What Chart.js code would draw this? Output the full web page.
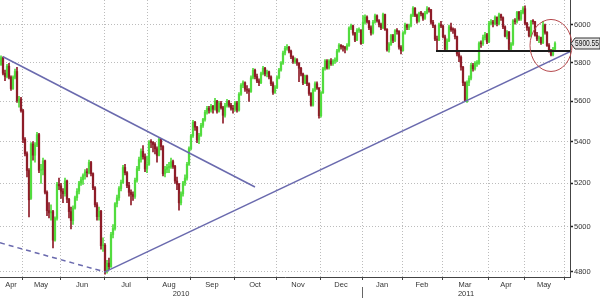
<!DOCTYPE html>
<html>
<head>
<meta charset="utf-8">
<title>FTSE 100 daily, Apr 2010 - May 2011</title>
<script src="https://cdn.jsdelivr.net/npm/chart.js@4.4.1/dist/chart.umd.min.js"></script>
<style>
  html, body { margin: 0; padding: 0; background: #fff; }
  #wrap { width: 600px; height: 300px; }
</style>
</head>
<body>
<div id="wrap"><canvas id="chart" width="600" height="300"></canvas></div>
<script>
// Daily sessions, index 0 = mid April 2010, last = late May 2011
const opens = [
  5790,5825,5744,5727,5781,5723,5665,5723,5753,5595, 5612,5553,5411,5341,5261,5130,5388,5334,5383,5434,
  5262,5264,5307,5158,5073,5063,5069,4940,5038,5195, 5188,5163,5152,5211,5126,5069,5028,5085,5133,5163,
  5202,5217,5237,5254,5250,5299,5246,5179,5100,5046, 5071,4915,4917,4805,4838,4823,4965,4992,5105,5132,
  5176,5204,5275,5250,5190,5158,5148,5139,5214,5269, 5313,5352,5326,5268,5290,5397,5396,5386,5365,5333,
  5411,5376,5245,5266,5275,5277,5303,5280,5211,5195, 5109,5151,5202,5225,5290,5366,5428,5495,5471,5408,
  5431,5480,5509,5545,5565,5555,5575,5560,5602,5550, 5590,5568,5530,5578,5600,5580,5565,5560,5592,5556,
  5636,5682,5695,5662,5657,5650,5720,5760,5727,5704, 5695,5742,5770,5741,5751,5725,5690,5646,5670,5720,
  5761,5797,5850,5875,5880,5860,5830,5805,5815,5797, 5770,5740,5694,5730,5690,5640,5581,5657,5690,5668,
  5528,5643,5767,5808,5772,5808,5794,5808,5812,5861, 5892,5882,5881,5871,5890,5983,5996,5956,5919,5971,
  5972,5905,6014,6043,6019,5985,5957,6015,6050,6023, 6002,5985,6057,5976,5867,5896,5943,5917,5969,5965,
  5881,5863,5957,6000,5987,5997,6052,6092,6053,6021, 6063,6061,6037,6065,6087,6083,6015,5996,5924,5919,
  6002,5994,5936,5870,5914,5990,5974,5973,5937,5845, 5828,5776,5695,5599,5697,5718,5786,5767,5795,5796,
  5900,5899,5932,5948,5909,6009,6017,6008,6042,6007, 6056,6040,5990,5940,5963,5870,5897,6023,6018,6069,
  6033,6068,6089,6009,5985,5942,6019,6018,5945,5925, 5932,5905,6000,5960,5890,5861,5840,5870
];
const highs = [
  5835,5830,5760,5790,5795,5730,5730,5765,5775,5625, 5620,5560,5420,5350,5270,5395,5400,5395,5445,5440,
  5290,5320,5310,5165,5110,5100,5075,5045,5205,5225, 5200,5175,5225,5215,5130,5090,5095,5140,5175,5210,
  5230,5245,5265,5270,5310,5305,5250,5185,5110,5090, 5075,4950,4925,4850,4860,4975,5010,5110,5145,5185,
  5215,5285,5290,5255,5205,5170,5160,5225,5280,5325, 5365,5380,5340,5330,5405,5410,5400,5395,5375,5420,
  5415,5380,5280,5290,5300,5320,5310,5285,5230,5200, 5160,5210,5240,5300,5375,5435,5505,5500,5475,5440,
  5490,5515,5555,5575,5575,5585,5580,5615,5605,5600, 5600,5575,5590,5610,5605,5590,5580,5600,5600,5645,
  5690,5705,5700,5680,5665,5730,5770,5765,5740,5715, 5750,5780,5775,5760,5755,5730,5700,5680,5730,5770,
  5805,5860,5885,5895,5885,5865,5835,5825,5820,5800, 5775,5745,5735,5735,5695,5645,5665,5700,5700,5670,
  5650,5775,5815,5815,5815,5820,5815,5825,5870,5900, 5895,5890,5885,5900,5990,6005,6000,5960,5980,5985,
  5975,6051,6055,6050,6025,5995,6025,6060,6055,6030, 6010,6065,6060,5980,5905,5950,5950,5975,5980,5970,
  5890,5965,6010,6005,6005,6060,6100,6095,6060,6070, 6075,6065,6075,6100,6095,6085,6025,6000,5940,6010,
  6020,6000,5945,5925,6000,6010,5985,5980,5940,5855, 5835,5780,5700,5705,5730,5795,5795,5805,5810,5910,
  5915,5945,5960,5955,6020,6030,6025,6050,6045,6065, 6060,6045,5995,5970,5965,5905,6030,6035,6075,6075,
  6080,6100,6105,6015,5990,6025,6030,6020,5960,5940, 5935,6020,6005,5965,5900,5870,5880,5910
];
const lows = [
  5785,5735,5705,5720,5715,5655,5660,5715,5595,5570, 5545,5395,5330,5230,5045,5125,5310,5300,5375,5250,
  5200,5240,5150,5050,5040,5030,4905,4935,5030,5170, 5130,5110,5140,5110,5040,4990,5010,5080,5120,5150,
  5190,5195,5220,5230,5245,5235,5170,5090,5030,5030, 4900,4890,4790,4795,4810,4820,4950,4985,5090,5120,
  5165,5200,5240,5180,5140,5100,5120,5130,5205,5260, 5300,5315,5255,5250,5285,5370,5350,5340,5300,5330,
  5360,5235,5230,5250,5250,5270,5270,5200,5170,5075, 5100,5140,5190,5215,5285,5360,5420,5455,5395,5390,
  5425,5470,5500,5535,5540,5545,5540,5555,5540,5545, 5560,5490,5520,5570,5570,5555,5540,5550,5545,5550,
  5630,5670,5650,5640,5600,5645,5715,5715,5695,5680, 5690,5735,5730,5725,5715,5680,5635,5640,5665,5715,
  5755,5790,5840,5865,5850,5820,5795,5795,5785,5700, 5730,5685,5690,5680,5630,5575,5575,5650,5660,5515,
  5520,5640,5760,5765,5765,5785,5785,5795,5805,5855, 5870,5860,5850,5865,5885,5975,5945,5910,5915,5960,
  5895,5900,6005,6010,5975,5945,5950,6010,6015,5990, 5975,5980,5970,5860,5855,5890,5905,5910,5950,5870,
  5845,5860,5950,5975,5975,5990,6045,6045,6010,6015, 6050,6025,6030,6060,6070,6005,5985,5915,5862,5915,
  5985,5930,5862,5865,5910,5965,5955,5925,5835,5805, 5760,5680,5598,5595,5680,5710,5755,5760,5780,5790,
  5880,5890,5920,5900,5905,6000,5990,6000,5995,6000, 6025,5980,5935,5925,5862,5860,5890,6005,6010,6025,
  6025,6060,6000,5970,5935,5935,6005,5940,5915,5905, 5895,5900,5950,5885,5855,5835,5835,5865
];
const closes = [
  5825,5744,5727,5781,5723,5665,5723,5753,5603,5612, 5553,5411,5341,5261,5123,5388,5334,5383,5434,5262,
  5264,5307,5158,5073,5063,5069,4940,5038,5195,5188, 5163,5152,5211,5126,5069,5028,5085,5133,5163,5202,
  5217,5237,5254,5250,5299,5246,5179,5100,5046,5071, 4915,4917,4805,4838,4823,4965,4992,5105,5132,5176,
  5204,5275,5250,5190,5158,5148,5139,5214,5269,5313, 5352,5326,5268,5290,5397,5396,5386,5365,5333,5411,
  5376,5245,5266,5275,5277,5303,5280,5211,5195,5109, 5151,5202,5225,5290,5366,5428,5495,5471,5408,5431,
  5480,5509,5545,5565,5555,5575,5560,5602,5550,5590, 5568,5530,5578,5600,5580,5565,5560,5592,5556,5636,
  5682,5695,5662,5657,5650,5720,5760,5727,5704,5695, 5742,5770,5741,5751,5725,5690,5646,5670,5720,5761,
  5797,5850,5875,5880,5860,5830,5805,5815,5797,5770, 5740,5694,5730,5690,5640,5581,5657,5690,5668,5528,
  5643,5767,5808,5772,5808,5794,5808,5812,5861,5892, 5882,5881,5871,5890,5983,5996,5956,5919,5971,5972,
  5900,6014,6043,6019,5985,5957,6015,6050,6023,6002, 5985,6057,5976,5867,5896,5943,5917,5969,5965,5881,
  5863,5957,6000,5987,5997,6052,6092,6053,6021,6063, 6061,6037,6065,6087,6083,6015,5996,5924,5919,6002,
  5994,5936,5870,5914,5990,5974,5973,5937,5845,5828, 5776,5695,5599,5697,5718,5786,5767,5795,5796,5900,
  5899,5932,5948,5909,6009,6017,6008,6042,6007,6056, 6040,5990,5940,5963,5870,5897,6023,6018,6069,6033,
  6068,6089,6009,5985,5942,6019,6018,5945,5925,5932, 5905,6000,5960,5890,5861,5840,5870,5900.55
];

// month axis: label per month, first session index of the following month
const monthNames = ["Apr","May","Jun","Jul","Aug","Sep","Oct","Nov","Dec","Jan","Feb","Mar","Apr","May"];
const monthEnds = [11, 30, 52, 74, 95, 117, 138, 160, 181, 201, 221, 244, 262, 282];
const yearNames = ["2010", "2011"];
const yearBreak = 181;   // first session of 2011
const priceTicks = [4800, 5000, 5200, 5400, 5600, 5800, 6000];

// hand drawn lines, [session index, price]
const downTrend = [[1, 5830], [127, 5183]];
const oldTrend = [[-0.5, 4928], [52, 4800]];
const upTrend = [[52, 4800], [284.5, 5857]];
const support = [[217.5, 5861], [284.5, 5861]];
const circled = { index: 275, price: 5890 };

const X_MIN = -0.5, X_MAX = 284.5;
const FONT = "'Liberation Sans', Arial, sans-serif";
const UP = '#52dc3e', DOWN = '#8e1c28', TREND = '#6a6aae';

const colors = closes.map((c, i) => c >= opens[i] ? UP : DOWN);
const pts = arr => arr.map(([x, y]) => ({ x, y }));

const monthMids = monthNames.map((_, k) => {
  const a = k === 0 ? X_MIN : monthEnds[k - 1] - 0.5;
  const b = Math.min(monthEnds[k] - 0.5, X_MAX);
  return (a + b) / 2;
});
const yearMids = [(X_MIN + yearBreak - 0.5) / 2, (yearBreak - 0.5 + X_MAX) / 2];

const noPad = s => { s.paddingLeft = 0; s.paddingRight = 0; s.paddingTop = 0; s.paddingBottom = 0; };

const overlay = {
  id: 'overlay',
  afterDatasetsDraw(chart) {
    const { ctx, scales: { x, y } } = chart;
    ctx.save();
    ctx.strokeStyle = '#b5484c';
    ctx.lineWidth = 1;
    ctx.beginPath();
    ctx.ellipse(x.getPixelForValue(circled.index), y.getPixelForValue(circled.price), 21, 26, 0, 0, Math.PI * 2);
    ctx.stroke();
    ctx.restore();
  },
  afterDraw(chart) {
    const { ctx, chartArea, scales: { x, y } } = chart;
    const last = closes[closes.length - 1];
    const py = Math.round(y.getPixelForValue(last)) + 0.5;
    const r = chartArea.right;
    ctx.save();
    // last price tag
    ctx.beginPath();
    ctx.moveTo(r + 1, py);
    ctx.lineTo(r + 5, py - 5.5);
    ctx.lineTo(600, py - 5.5);
    ctx.lineTo(600, py + 5.5);
    ctx.lineTo(r + 5, py + 5.5);
    ctx.closePath();
    ctx.fillStyle = '#e4e4e4';
    ctx.fill();
    ctx.strokeStyle = '#333';
    ctx.lineWidth = 1;
    ctx.stroke();
    ctx.fillStyle = '#111';
    ctx.font = '9px ' + FONT;
    ctx.textBaseline = 'middle';
    ctx.textAlign = 'left';
    ctx.fillText(last.toFixed(2), r + 5, py + 0.5, 600 - r - 6);
    // year separator under the month labels
    const sx = Math.round(x.getPixelForValue(yearBreak - 0.5)) + 0.5;
    ctx.strokeStyle = '#666';
    ctx.beginPath();
    ctx.moveTo(sx, chartArea.bottom + 10);
    ctx.lineTo(sx, chartArea.bottom + 21);
    ctx.stroke();
    ctx.restore();
  }
};

const lineSet = (data, color, width, dash) => ({
  type: 'line', data: pts(data), borderColor: color, borderWidth: width,
  borderDash: dash || [], pointRadius: 0, tension: 0, order: 0
});

const labelFont = { family: FONT, size: 7.5 };

new Chart(document.getElementById('chart'), {
  type: 'bar',
  data: {
    datasets: [
      lineSet(support, '#1c1c1c', 2),
      lineSet(downTrend, TREND, 1.5),
      lineSet(oldTrend, TREND, 1.5, [5, 4]),
      lineSet(upTrend, TREND, 1.5),
      {
        label: 'body',
        data: closes.map((c, i) => ({ x: i, y: [opens[i], c] })),
        backgroundColor: colors,
        barThickness: 1.6,
        minBarLength: 1,
        grouped: false,
        order: 1
      },
      {
        label: 'wick',
        data: closes.map((c, i) => ({ x: i, y: [lows[i], highs[i]] })),
        backgroundColor: colors,
        barThickness: 1,
        grouped: false,
        order: 2
      }
    ]
  },
  options: {
    responsive: false,
    devicePixelRatio: 1,
    animation: false,
    events: [],
    layout: { padding: 0 },
    plugins: { legend: { display: false }, tooltip: { enabled: false } },
    scales: {
      x: {
        type: 'linear', position: 'bottom', min: X_MIN, max: X_MAX, bounds: 'data', offset: false,
        afterBuildTicks: s => { s.ticks = monthEnds.map(v => ({ value: v - 0.5 })); },
        ticks: { display: false },
        grid: { offset: false, color: '#bcbcbc', tickColor: '#444', tickLength: 3 },
        border: { color: '#444', dash: [1, 2] },
        afterFit: s => { s.height = 3; noPad(s); }
      },
      months: {
        type: 'linear', position: 'bottom', min: X_MIN, max: X_MAX, bounds: 'data', offset: false,
        afterBuildTicks: s => { s.ticks = monthMids.map(v => ({ value: v })); },
        ticks: {
          callback: (v, i) => monthNames[i], autoSkip: false, maxRotation: 0,
          padding: 0, color: '#333', font: labelFont
        },
        grid: { display: false, drawTicks: false, offset: false },
        border: { display: false },
        afterFit: s => { s.height = 9; noPad(s); }
      },
      years: {
        type: 'linear', position: 'bottom', min: X_MIN, max: X_MAX, bounds: 'data', offset: false,
        afterBuildTicks: s => { s.ticks = yearMids.map(v => ({ value: v })); },
        ticks: {
          callback: (v, i) => yearNames[i], autoSkip: false, maxRotation: 0,
          padding: 0, color: '#333', font: labelFont
        },
        grid: { display: false, drawTicks: false, offset: false },
        border: { display: false },
        afterFit: s => { s.height = 11; noPad(s); }
      },
      y: {
        type: 'logarithmic', position: 'right', min: 4778, max: 6137, bounds: 'data', beginAtZero: false,
        afterBuildTicks: s => { s.ticks = priceTicks.map(v => ({ value: v })); },
        ticks: {
          callback: v => String(v), padding: 1, color: '#333', font: labelFont
        },
        grid: { color: '#bcbcbc', tickColor: '#222', tickLength: 3, tickWidth: 1.5 },
        border: { color: '#444', dash: [1, 2] },
        afterFit: s => { s.width = 30; noPad(s); }
      }
    }
  },
  plugins: [overlay]
});
</script>
</body>
</html>
